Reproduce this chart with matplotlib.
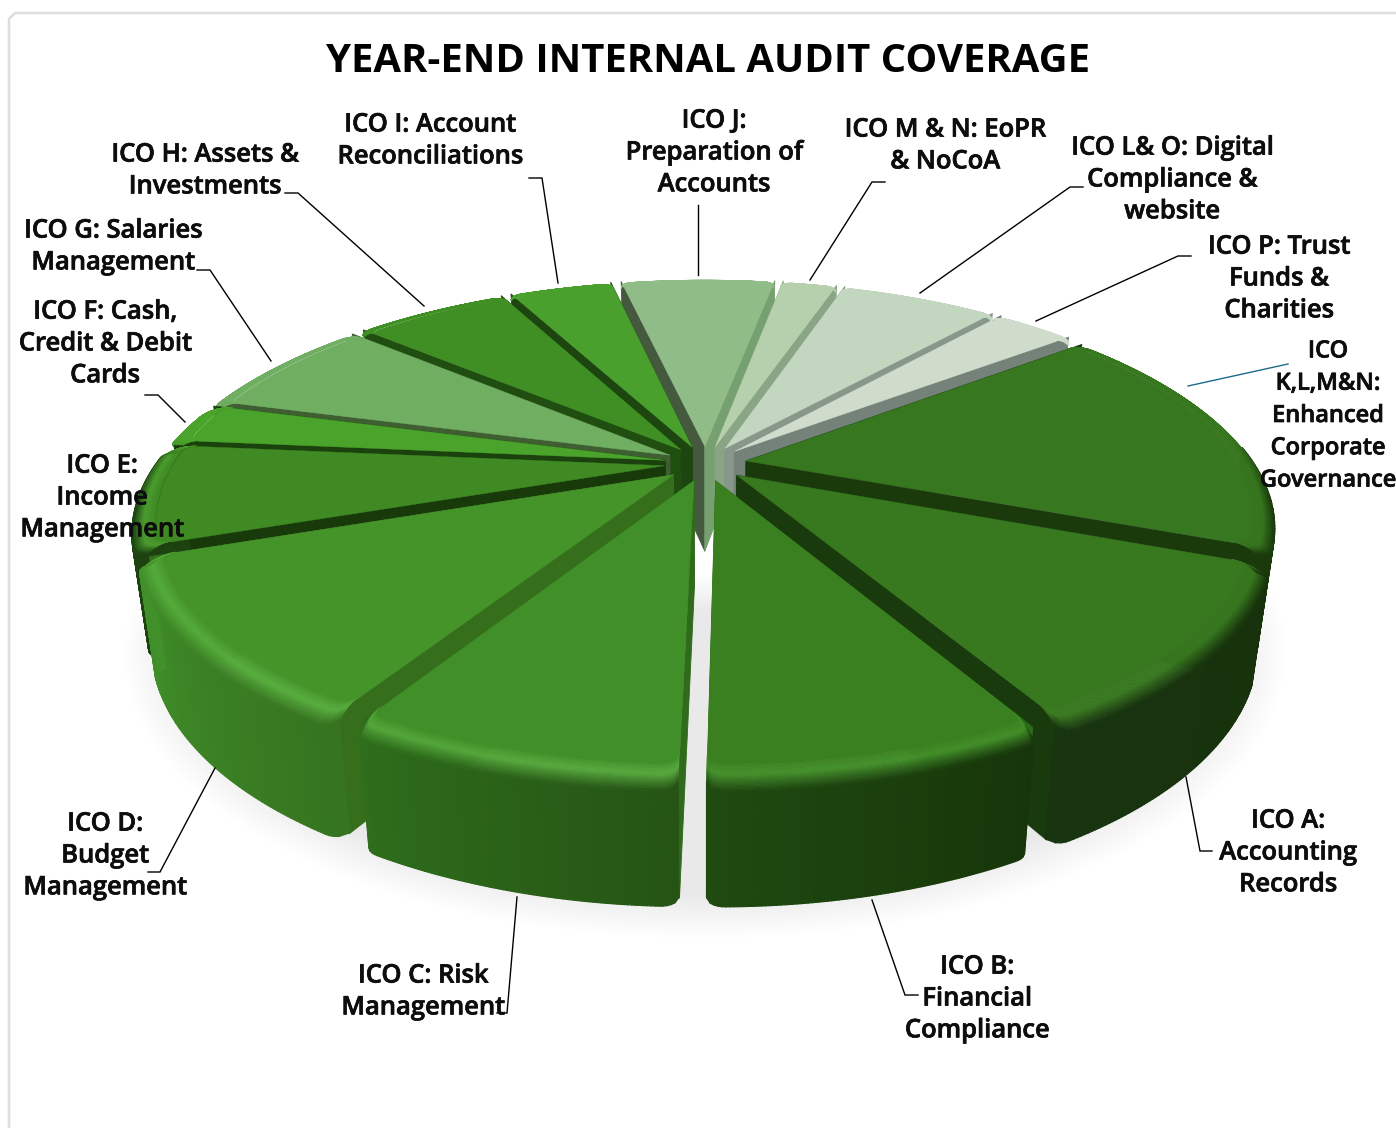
import numpy as np
import matplotlib
matplotlib.use("Agg")
import matplotlib.pyplot as plt
import matplotlib.patheffects as pe
from matplotlib.collections import PolyCollection
from matplotlib.colors import to_rgb

plt.rcParams['font.family'] = ['Open Sans', 'DejaVu Sans']

# Slices, clockwise, first one starts at start_angle (degrees from the top)
categories = ['ICO A:\nAccounting\nRecords', 'ICO B:\nFinancial\nCompliance',
              'ICO C: Risk\nManagement', 'ICO D:\nBudget\nManagement',
              'ICO E:\nIncome\nManagement', 'ICO F: Cash,\nCredit & Debit\nCards',
              'ICO G: Salaries\nManagement', 'ICO H: Assets &\nInvestments',
              'ICO I: Account\nReconciliations', 'ICO J:\nPreparation of\nAccounts',
              'ICO M & N: EoPR\n& NoCoA', 'ICO L& O: Digital\nCompliance &\nwebsite',
              'ICO P: Trust\nFunds &\nCharities',
              'ICO\nK,L,M&N:\nEnhanced\nCorporate\nGovernance']
values = [39.3, 30, 29.7, 39.3, 25.5, 10.2, 26, 21.7, 14.6, 22, 7.7, 22.3, 11.2, 60.5]
start_angle = 111.7

# Colours per slice: top face, visible cut face, rim at both ends, rim highlight
top_colors = ['#38781f', '#3b8020', '#418f28', '#45942a', '#3f8a23', '#4aa42c', '#70ae62',
              '#408f24', '#4aa02d', '#90bc88', '#b6d0ae', '#c3d6bf', '#cfdccb', '#37771f']
cut_colors = ['#183a0c', '#2a6a18', '#2f6b1a', '#366f1c', '#183a0b', '#1b420d', '#3f5f33',
              '#1f4e10', '#1d4510', '#45593f', '#8aa585', '#87988a', '#74827a', '#1a3a0c']
rim_start = ['#17320b', '#17350a', '#255414', '#36741f', '#1c4210', '#1c4210', '#3f5f33',
             '#1f4e10', '#1d4510', '#45593f', '#8aa585', '#87988a', '#74827a', '#1a3a0c']
rim_end = ['#183410', '#1f4a10', '#2f6e1c', '#41902a', '#1c4210', '#1c4210', '#3f5f33',
           '#1f4e10', '#1d4510', '#45593f', '#8aa585', '#87988a', '#74827a', '#1a3a0c']
highlights = ['#38781f', '#43902a', '#55a83c', '#56ad3c', '#4c9e30', '#4aa42c', '#70ae62',
              '#408f24', '#4aa02d', '#90bc88', '#b6d0ae', '#c3d6bf', '#cfdccb', '#37771f']
J_INDEX = 9

# Label centres and leader routes
label_pos = [(1288, 853), (977, 999), (423, 992), (105, 856), (102, 498), (105, 344), (113, 247),
             (205, 171), (430, 141), (714, 153), (945, 146), (1172, 180), (1279, 279), (1328, 416)]
leaders = [[(1186, 777), (1200, 851), (1212, 851)],
           [(872, 900), (905, 995), (918, 995)],
           [(517, 897), (507, 1013), (497, 1013)],
           [(215, 768), (160, 872), (148, 872)],
           [],
           [(185, 422), (158, 395), (145, 395)],
           [(271, 361), (210, 270), (197, 270)],
           [(424, 306), (298, 193), (285, 193)],
           [(558, 283), (542, 178), (529, 178)],
           [(698, 275), (698, 205)],
           [(810, 280), (872, 182), (885, 182)],
           [(920, 293), (1070, 187), (1083, 187)],
           [(1036, 321), (1178, 256), (1191, 256)],
           [(1188, 386), (1288, 364)]]

# Perspective of the disc on the page
CX, CY = 705, 463
W, T, K = 514, 219, 0.24
DEPTH = 106
EXPLODE = 0.08
BEVEL_R, BEVEL_Z = 0.045, 0.08


def project(u, v, z=0.0):
    s = 1 / (1 + K * v)
    x = CX + W * u * s
    y = CY - T * v * s
    return np.column_stack([CX + (x - CX) * (1 - 0.03 * z), y + z * DEPTH * s ** 0.565])


def mix(c1, c2, t):
    a, b = np.array(to_rgb(c1)), np.array(to_rgb(c2))
    return (1 - t) * a + t * b


def arc(theta, t0, t1, r, ox, oy):
    # outer edge of a slice, pulled in near both ends to round its corners
    d = np.minimum(theta - t0, t1 - theta)
    soft = np.radians(1.6)
    pull = np.where(d < soft, 1 - np.sqrt(np.clip(1 - ((soft - d) / soft) ** 2, 0, 1)), 0)
    rr = r - 0.022 * pull
    return ox + rr * np.sin(theta), oy + rr * np.cos(theta)


fig = plt.figure(figsize=(13.96, 11.28), dpi=100)
ax = fig.add_axes([0, 0, 1, 1])
ax.set_xlim(0, 1396)
ax.set_ylim(1128, 0)
ax.axis('off')

# Card border
ax.plot([1396, 15, 9, 9], [13, 13, 19, 1128], color='#dedede', lw=1.8)

# Soft ground shadow, stacked from wide and faint to narrow
full = np.linspace(0, 2 * np.pi, 240)
for i in range(22):
    f = i / 21
    r = 1.115 - 0.1 * f
    pts = project(r * np.sin(full), r * np.cos(full) - 0.03, 1.02)
    pts[:, 1] = np.maximum(pts[:, 1], 575 + 35 * f)
    ax.add_collection(PolyCollection([pts], facecolors='black', edgecolors='none', alpha=0.0052))

# Slices from the back of the disc to the front
angles = np.radians(np.concatenate([[0], np.cumsum(values)]) * 360 / np.sum(values) + start_angle)
mids = (angles[:-1] + angles[1:]) / 2
order = np.argsort(-np.cos(mids))

for i in order:
    t0, t1 = angles[i], angles[i + 1]
    ox, oy = EXPLODE * np.sin(mids[i]), EXPLODE * np.cos(mids[i])
    theta = np.linspace(t0, t1, 90)
    fr = (theta[:-1] - t0) / (t1 - t0)
    seg_cos = np.cos((theta[:-1] + theta[1:]) / 2)
    front = np.clip((0.15 - seg_cos) / 0.3, 0, 1)

    # cut faces running in to the centre
    for edge, col in ((t0, cut_colors[i]), (t1, '#76a070' if i == J_INDEX else cut_colors[i])):
        eu, ev = ox + 0.979 * np.sin(edge), oy + 0.979 * np.cos(edge)
        face = np.vstack([project(ox, oy), project(eu, ev), project(eu, ev, 1), project(ox, oy, 1)])
        ax.add_collection(PolyCollection([face], facecolors=[col], edgecolors=[col], linewidths=0.6))

    # outer wall, shaded along the arc; the far side of the disc faces away
    u, v = arc(theta, t0, t1, 1.0, ox, oy)
    up, down = project(u, v, BEVEL_Z * 0.9), project(u, v, 1)
    seen = np.flatnonzero(seg_cos < 0.1)
    if len(seen):
        quads = [np.vstack([up[j], up[j + 1], down[j + 1], down[j]]) for j in seen]
        cols = [mix(rim_start[i], rim_end[i], fr[j]) for j in seen]
        ax.add_collection(PolyCollection(quads, facecolors=cols, edgecolors=cols, linewidths=0.9))

    # flat top face
    u, v = arc(theta, t0, t1, 1 - BEVEL_R, ox, oy)
    top = np.vstack([project(ox, oy), project(u, v)])
    ax.add_collection(PolyCollection([top], facecolors=[top_colors[i]], edgecolors=[top_colors[i]],
                                     linewidths=0.3))

    # rounded shoulder between wall and top face
    steps = 14
    for s in range(steps):
        g0, g1 = s / steps, (s + 1) / steps
        gm = (g0 + g1) / 2
        u0, v0 = arc(theta, t0, t1, 1 - BEVEL_R * (1 - g0), ox, oy)
        u1, v1 = arc(theta, t0, t1, 1 - BEVEL_R * (1 - g1), ox, oy)
        inner, outer = project(u0, v0, BEVEL_Z * g0 ** 2), project(u1, v1, BEVEL_Z * g1 ** 2)
        quads, cols = [], []
        for j in range(len(fr)):
            quads.append(np.vstack([inner[j], inner[j + 1], outer[j + 1], outer[j]]))
            wall = mix(rim_start[i], rim_end[i], fr[j])
            end = mix(top_colors[i], wall, front[j])
            col = mix(top_colors[i], highlights[i], gm / 0.5) if gm < 0.5 \
                else mix(highlights[i], end, (gm - 0.5) / 0.5)
            cols.append(col)
        ax.add_collection(PolyCollection(quads, facecolors=cols, edgecolors=cols, linewidths=0.4))

# Labels and leader lines
heavy = [pe.withStroke(linewidth=0.5, foreground='#0d0d0d')]
for i, name in enumerate(categories):
    is_odd = i == len(categories) - 1
    if leaders[i]:
        xs, ys = zip(*leaders[i])
        ax.plot(xs, ys, color='#1f6a8c' if is_odd else 'black', lw=1.0, zorder=5,
                solid_joinstyle='miter')
    ax.text(label_pos[i][0], label_pos[i][1], name, ha='center', va='center', multialignment='center',
            fontsize=17 if is_odd else 18.4, fontweight=600, linespacing=1.46 if is_odd else 1.36,
            color='#0d0d0d', zorder=6, path_effects=heavy)

ax.text(708.5, 62, 'YEAR-END INTERNAL AUDIT COVERAGE', ha='center', va='center',
        fontsize=28.8, fontweight=700, color='black', zorder=6)

fig.savefig('out.png', dpi=100)
